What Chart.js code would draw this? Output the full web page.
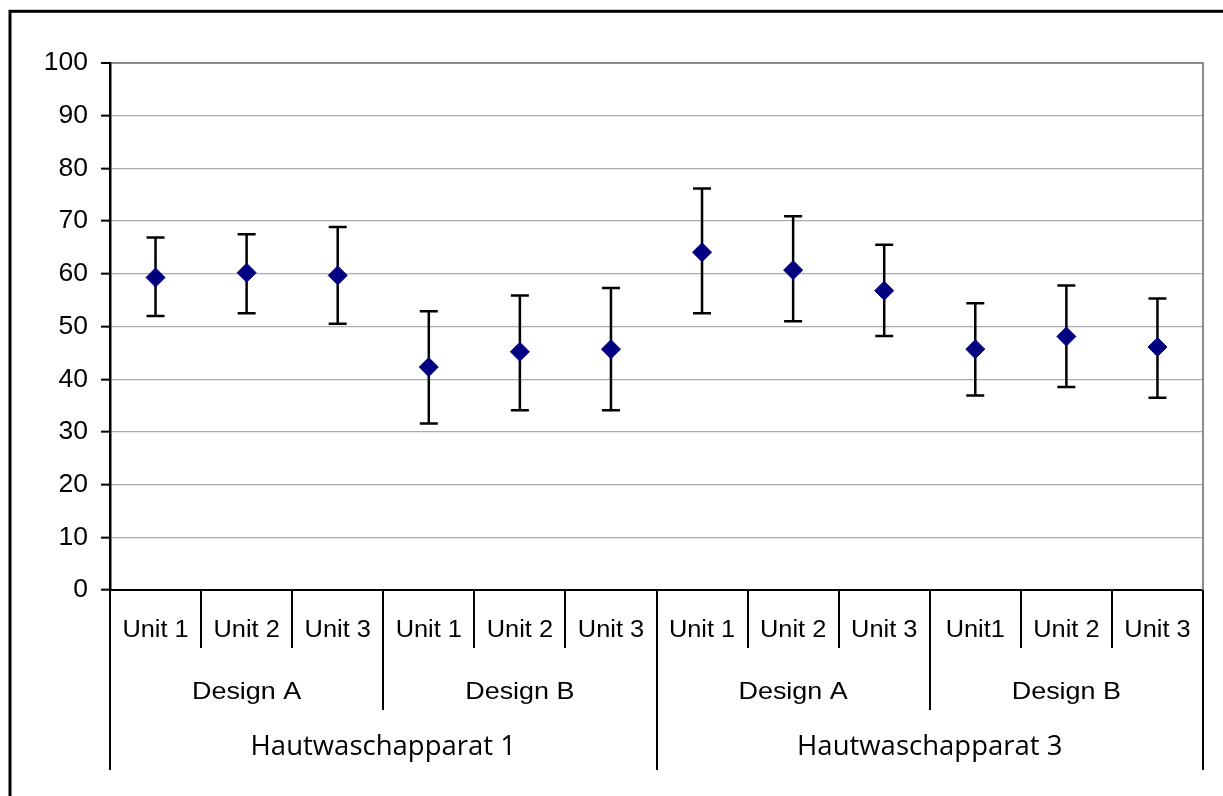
<!DOCTYPE html>
<html><head><meta charset="utf-8">
<script src="https://cdn.jsdelivr.net/npm/chart.js@4.4.1/dist/chart.umd.min.js"></script>
<style>html,body{margin:0;padding:0;background:#fff}#wrap{width:1223px;height:796px;position:relative}</style>
</head><body><div id="wrap"><canvas id="c" width="1223" height="796"></canvas></div>
<script>
// ---- data ----
const units = ['Unit 1','Unit 2','Unit 3','Unit 1','Unit 2','Unit 3','Unit 1','Unit 2','Unit 3','Unit1','Unit 2','Unit 3'];
const designs = ['Design A','Design B','Design A','Design B'];
const apparatus = ['Hautwaschapparat 1','Hautwaschapparat 3'];
const means = [59.3, 60.2, 59.7, 42.3, 45.2, 45.7, 64.1, 60.7, 56.8, 45.7, 48.1, 46.1];
const upperVals = [66.9, 67.5, 68.9, 52.9, 55.9, 57.3, 76.2, 70.9, 65.5, 54.4, 57.8, 55.3];
const lowerVals = [52.0, 52.5, 50.5, 31.6, 34.1, 34.1, 52.5, 51.0, 48.2, 36.9, 38.5, 36.5];
const yMin = 0, yMax = 100, yStep = 10;

function drawLabel(ctx, text, cx, cy, font, sx) {
  ctx.save();
  ctx.translate(cx, cy);
  ctx.scale(sx, 1);
  ctx.font = font;
  ctx.textAlign = 'center';
  ctx.textBaseline = 'middle';
  ctx.fillStyle = '#000';
  ctx.fillText(text, 0, 0);
  ctx.restore();
}

const decor = {
  id: 'decor',
  beforeDatasetsDraw(chart) {
    const {ctx, chartArea, scales: {x, y}} = chart;
    ctx.save();
    // right border of plot area
    ctx.strokeStyle = '#8c8c8c';
    ctx.lineWidth = 2;
    ctx.beginPath();
    ctx.moveTo(chartArea.right, chartArea.top - 1);
    ctx.lineTo(chartArea.right, chartArea.bottom);
    ctx.stroke();
    // error bars
    ctx.strokeStyle = '#000';
    ctx.lineWidth = 2.5;
    const cap = 9;
    for (let i = 0; i < means.length; i++) {
      const px = x.getPixelForValue(i);
      const yt = y.getPixelForValue(upperVals[i]);
      const yb = y.getPixelForValue(lowerVals[i]);
      ctx.beginPath();
      ctx.moveTo(px, yt); ctx.lineTo(px, yb);
      ctx.moveTo(px - cap, yt); ctx.lineTo(px + cap, yt);
      ctx.moveTo(px - cap, yb); ctx.lineTo(px + cap, yb);
      ctx.stroke();
    }
    ctx.restore();
  },
  afterDraw(chart) {
    const {ctx, chartArea, scales: {x}} = chart;
    const base = chartArea.bottom;
    const edge = i => x.getPixelForValue(i - 0.5);
    ctx.save();
    ctx.strokeStyle = '#000';
    ctx.lineWidth = 2;
    const n = units.length;
    const perDesign = n / designs.length;
    const perApp = n / apparatus.length;
    for (let i = 0; i <= n; i++) {
      let len = 58;
      if (i % perDesign === 0) len = 120;
      if (i % perApp === 0) len = 180;
      const ex = Math.round(edge(i));
      ctx.beginPath();
      ctx.moveTo(ex, base);
      ctx.lineTo(ex, base + len);
      ctx.stroke();
    }
    units.forEach((u, i) => {
      drawLabel(ctx, u, x.getPixelForValue(i), base + 41, '23.5px "Liberation Sans", Arial, sans-serif', 1.08);
    });
    designs.forEach((d, j) => {
      const cx = (edge(j * perDesign) + edge((j + 1) * perDesign)) / 2;
      drawLabel(ctx, d, cx, base + 102, '24.5px "Liberation Sans", Arial, sans-serif', 1.1);
    });
    apparatus.forEach((a, j) => {
      const cx = (edge(j * perApp) + edge((j + 1) * perApp)) / 2;
      drawLabel(ctx, a, cx, base + 157, '27.5px "Open Sans", sans-serif', 1.0);
    });
    // outer frame
    ctx.lineWidth = 3;
    ctx.strokeRect(10, 11.3, 1400, 1000);
    ctx.restore();
  }
};

new Chart(document.getElementById('c'), {
  type: 'line',
  data: {
    labels: units,
    datasets: [{
      data: means,
      showLine: false,
      pointStyle: 'rectRot',
      pointRadius: 9.5,
      pointHoverRadius: 9.5,
      pointBackgroundColor: '#000080',
      pointBorderColor: '#000080',
      pointBorderWidth: 1
    }]
  },
  options: {
    responsive: false,
    animation: false,
    devicePixelRatio: 1,
    events: [],
    layout: {padding: {left: 0, top: 63, right: 20, bottom: 0}},
    plugins: {legend: {display: false}, tooltip: {enabled: false}},
    scales: {
      x: {
        type: 'category',
        offset: true,
        grid: {display: false, drawTicks: false},
        border: {display: true, color: '#000', width: 2},
        ticks: {display: false},
        afterFit(s) { s.height = 206; }
      },
      y: {
        min: yMin, max: yMax,
        ticks: {stepSize: yStep, color: '#000', padding: 13,
          font: {family: '"Liberation Sans", Arial, sans-serif', size: 26.5}},
        grid: {
          color: c => c.tick && c.tick.value === yMax ? '#8c8c8c' : '#ababab',
          lineWidth: c => c.tick && c.tick.value === yMax ? 2 : 1.3,
          tickColor: '#000', tickLength: 9, tickWidth: 2
        },
        border: {display: true, color: '#000', width: 2.5},
        afterFit(s) { s.width = 110; }
      }
    }
  },
  plugins: [decor]
});
</script>
</body></html>
